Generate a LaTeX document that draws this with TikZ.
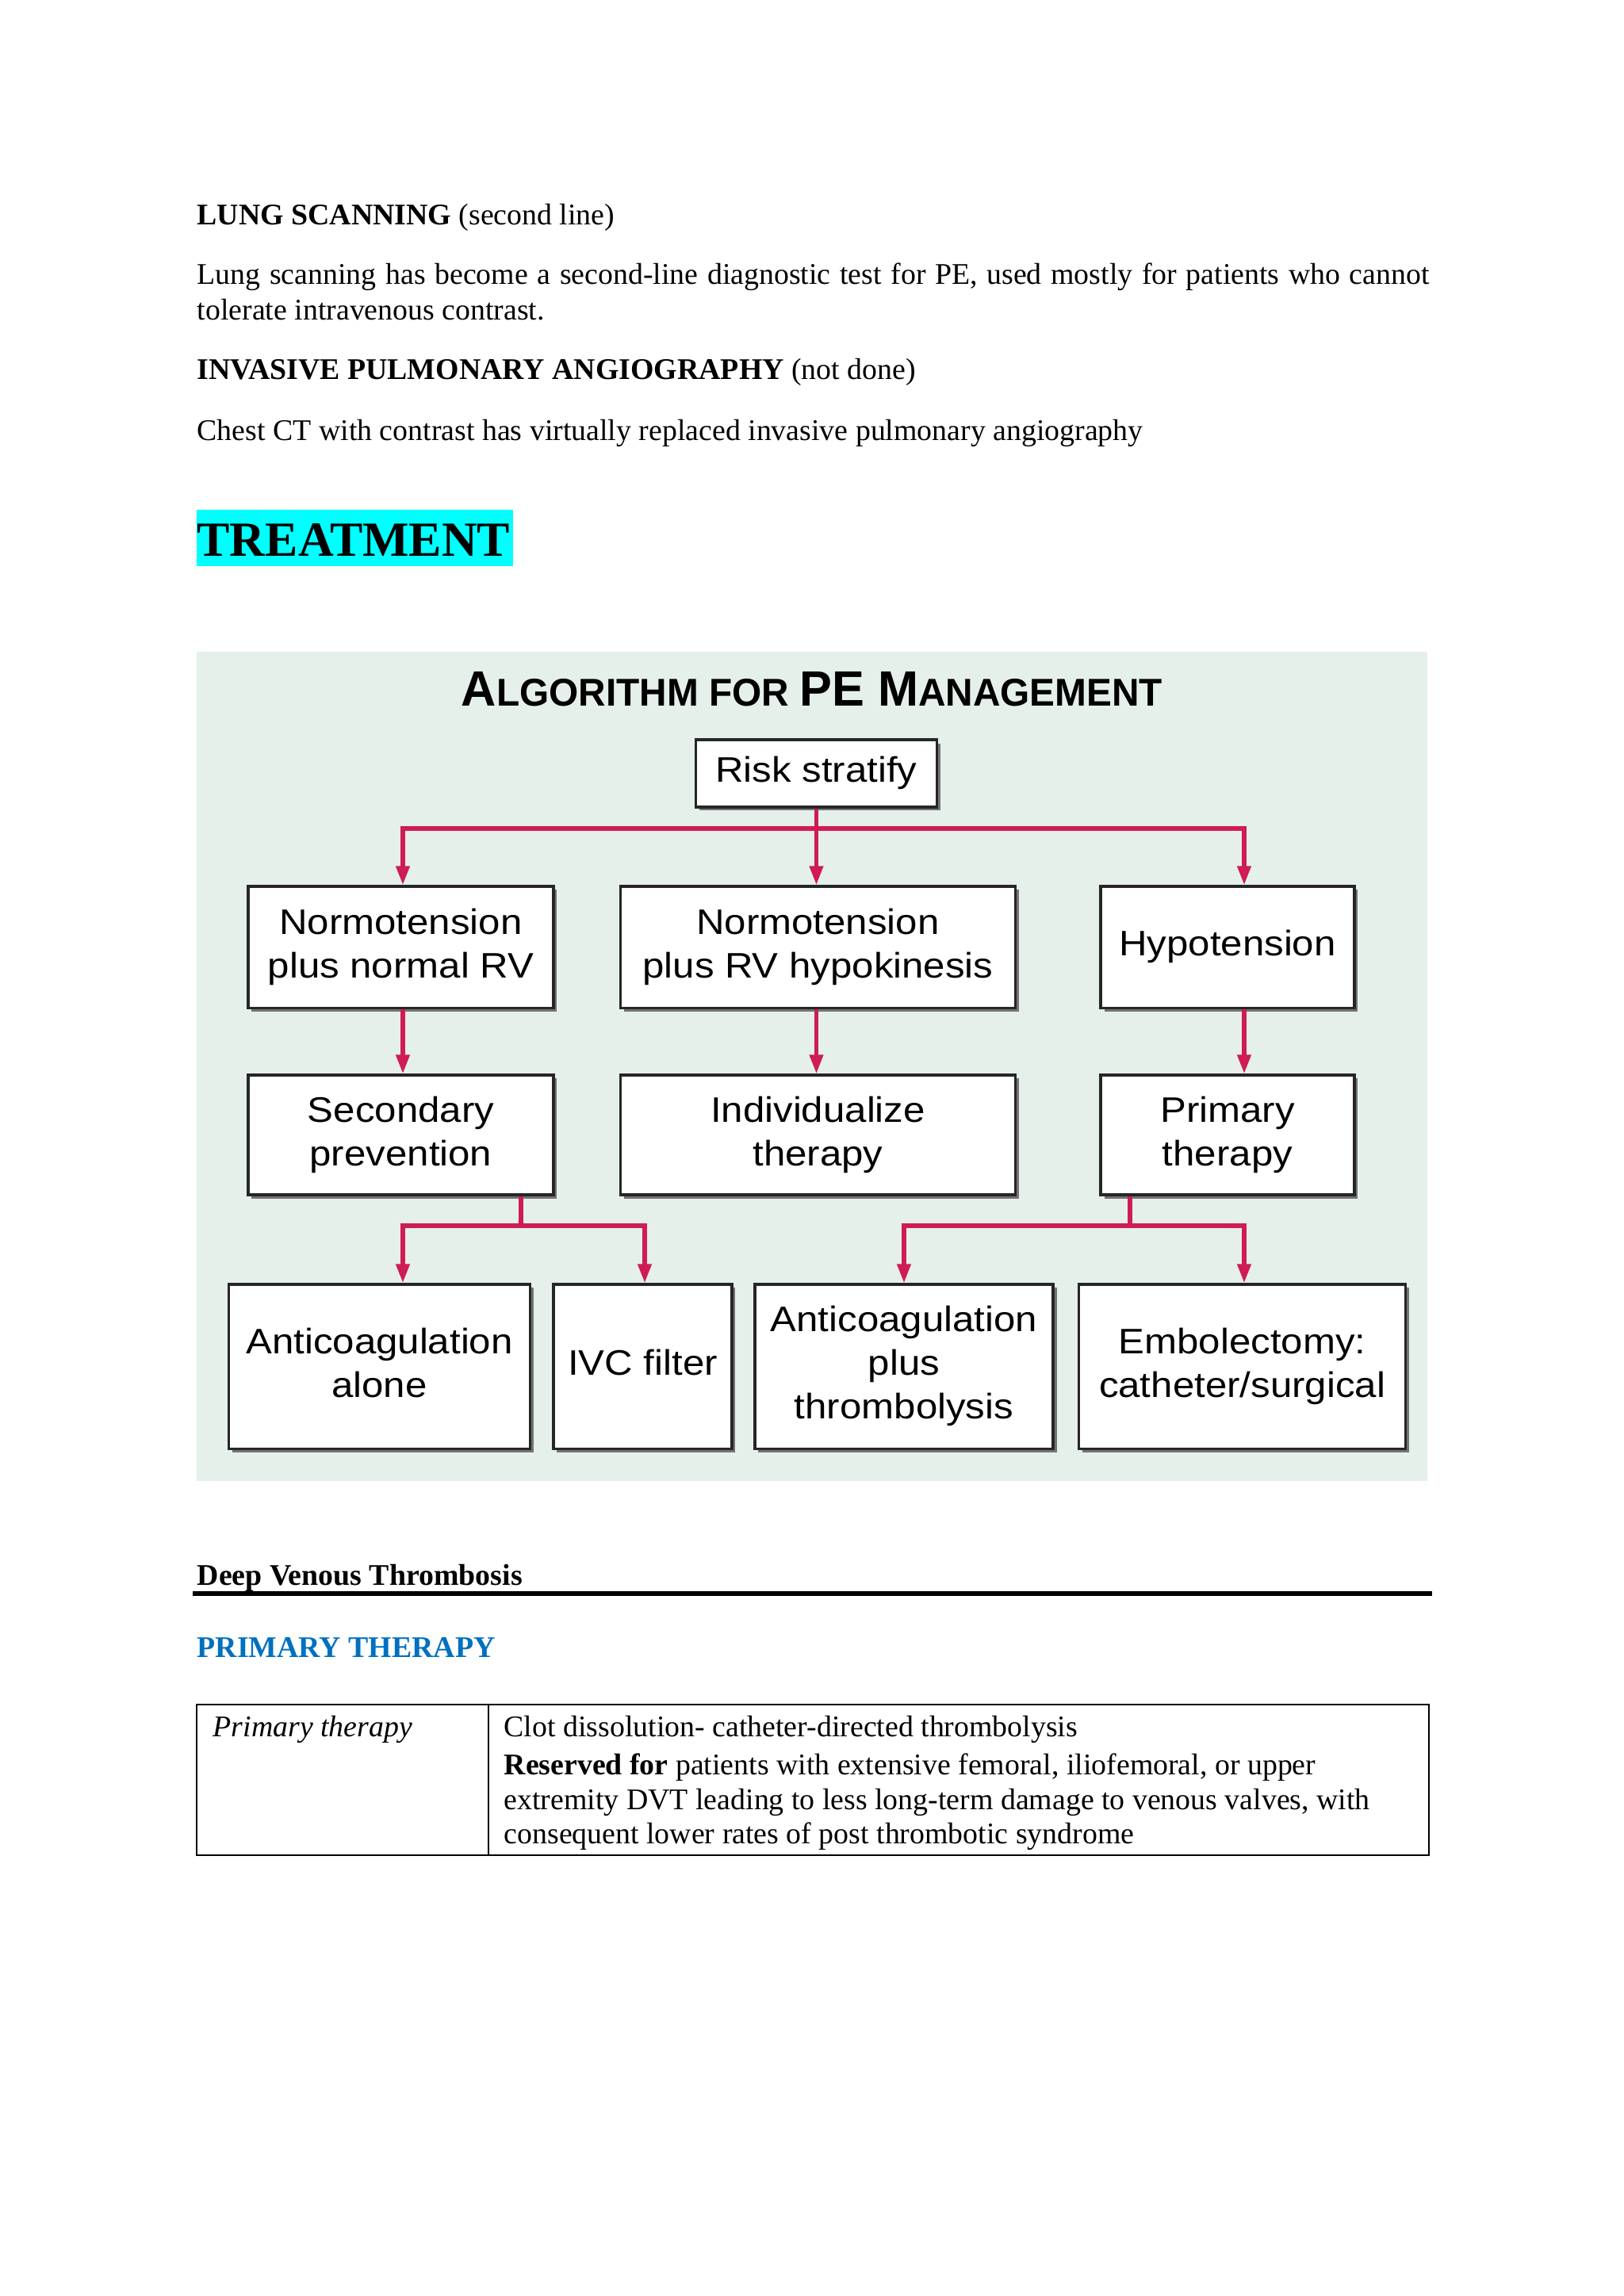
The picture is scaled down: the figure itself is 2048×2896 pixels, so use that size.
\documentclass[tikz,border=0pt]{standalone}
\usepackage{fontspec}
\setmainfont{Liberation Serif}
\newfontfamily\arialf{Liberation Sans}
\usepackage{graphicx}
\usetikzlibrary{arrows.meta,shadows}
\definecolor{pecol}{RGB}{207,28,84}
\definecolor{bgmint}{RGB}{229,240,234}
\definecolor{hlcyan}{RGB}{0,255,255}
\definecolor{headblue}{RGB}{0,112,192}
\newcommand\bxt[1]{\scalebox{1.1}[1]{\begin{tabular}{@{}c@{}}#1\end{tabular}}}
\tikzset{
  txt/.style={anchor=base west, inner sep=0pt, font=\fontsize{11bp}{13bp}\selectfont},
  pbox/.style={draw=black!85, line width=0.9bp, fill=white, inner sep=0pt,
    font=\arialf\fontsize{13bp}{16bp}\selectfont,
    drop shadow={shadow xshift=1.3bp, shadow yshift=-1.3bp, fill=black!55, opacity=1}},
  conn/.style={draw=pecol, line width=1.6bp},
  arr/.style={-{Triangle[length=7bp,width=4.8bp]}},
  arrb/.style={{Triangle[length=7bp,width=4.8bp]}-{Triangle[length=7bp,width=4.8bp]}},
}
\begin{document}
\begin{tikzpicture}[x=0.29066bp, y=-0.29066bp]
\useasboundingbox (0,0) rectangle (2048,2896);
\fill[white] (0,0) rectangle (2048,2896);

% body text
\node[txt] (t1) at (248,283) {\textbf{LUNG SCANNING} (second line)};
\node[txt] (t2) at (248,358) {\hbox to 451.7bp{Lung scanning has become a second-line diagnostic test for PE, used mostly for patients who cannot}};
\node[txt] (t3) at (248,403) {tolerate intravenous contrast.};
\node[txt] (t4) at (248,478) {\textbf{INVASIVE PULMONARY ANGIOGRAPHY} (not done)};
\node[txt] (t5) at (248,555) {Chest CT with contrast has virtually replaced invasive pulmonary angiography};

\fill[hlcyan] (248,643) rectangle (647,714);
\node[txt, font=\fontsize{18bp}{21bp}\selectfont\bfseries] (tr) at (248,701) {TREATMENT};

% diagram
\fill[bgmint] (248,822) rectangle (1800,1868);
\node[anchor=base, inner sep=0pt] (title) at (1024,890) {\resizebox{257bp}{\height}{\arialf\bfseries
  \fontsize{18.2bp}{20bp}\selectfont A\fontsize{14.2bp}{16bp}\selectfont LGORITHM FOR
  \fontsize{18.2bp}{20bp}\selectfont PE M\fontsize{14.2bp}{16bp}\selectfont ANAGEMENT}};

\node[pbox, minimum width=88.6bp, minimum height=24.7bp] (rs) at (1029.5,975.5) {\bxt{Risk stratify}};

\node[pbox, minimum width=111.9bp, minimum height=44.5bp] (A1) at (505.5,1194.5) {\bxt{Normotension\\plus normal RV}};
\node[pbox, minimum width=144.5bp, minimum height=44.5bp] (B1) at (1031.5,1194.5) {\bxt{Normotension\\plus RV hypokinesis}};
\node[pbox, minimum width=93.0bp, minimum height=44.5bp] (C1) at (1548,1194.5) {\bxt{Hypotension}};

\node[pbox, minimum width=111.9bp, minimum height=43.9bp] (A2) at (505.5,1431.5) {\bxt{Secondary\\prevention}};
\node[pbox, minimum width=144.5bp, minimum height=43.9bp] (B2) at (1031.5,1431.5) {\bxt{Individualize\\therapy}};
\node[pbox, minimum width=93.0bp, minimum height=43.9bp] (C2) at (1548,1431.5) {\bxt{Primary\\therapy}};

\node[pbox, minimum width=110.2bp, minimum height=60.2bp] (D) at (478.5,1723.5) {\bxt{Anticoagulation\\alone}};
\node[pbox, minimum width=65.4bp, minimum height=60.2bp] (E) at (810.5,1723.5) {\bxt{IVC filter}};
\node[pbox, minimum width=109.3bp, minimum height=60.2bp] (F) at (1140,1723.5) {\bxt{Anticoagulation\\plus\\thrombolysis}};
\node[pbox, minimum width=120.0bp, minimum height=60.2bp] (G) at (1566.5,1723.5) {\bxt{Embolectomy:\\catheter/surgical}};

\coordinate (h1l) at (508,1045);
\coordinate (h1r) at (1569,1045);
\coordinate (j1) at (657,1546);
\coordinate (j1l) at (508,1546);
\coordinate (j1r) at (813,1546);
\coordinate (j2) at (1425,1546);
\coordinate (j2l) at (1140,1546);
\coordinate (j2r) at (1569,1546);

\draw[conn, arrb] (A1.north -| h1l) -- (h1l) -- (h1r) -- (C1.north -| h1r);
\draw[conn, arr] (rs.south) -- (rs.south |- B1.north);
\draw[conn, arr] (A1.south -| h1l) -- (A2.north -| h1l);
\draw[conn, arr] (B1.south -| rs.south) -- (B2.north -| rs.south);
\draw[conn, arr] (C1.south -| h1r) -- (C2.north -| h1r);

\draw[conn] (A2.south -| j1) -- (j1);
\draw[conn, arrb] (D.north -| j1l) -- (j1l) -- (j1r) -- (E.north -| j1r);
\draw[conn] (C2.south -| j2) -- (j2);
\draw[conn, arrb] (F.north -| j2l) -- (j2l) -- (j2r) -- (G.north -| j2r);

% DVT section
\node[txt] (dvt) at (248,1999) {\textbf{Deep Venous Thrombosis}};
\draw[line width=1.5bp] (243,2010) -- (1806,2010);
\node[txt, text=headblue] (pt) at (248,2090) {\textbf{PRIMARY THERAPY}};

\draw[line width=0.5bp] (248,2150) rectangle (1802,2340);
\draw[line width=0.5bp] (616,2150) -- (616,2340);
\node[txt] (c1) at (268,2190) {\textit{Primary therapy}};
\node[txt] (r1) at (635,2190) {Clot dissolution- catheter-directed thrombolysis};
\node[txt] (r2) at (635,2238) {\textbf{Reserved for} patients with extensive femoral, iliofemoral, or upper};
\node[txt] (r3) at (635,2282) {extremity DVT leading to less long-term damage to venous valves, with};
\node[txt] (r4) at (635,2325) {consequent lower rates of post thrombotic syndrome};
\end{tikzpicture}
\end{document}
